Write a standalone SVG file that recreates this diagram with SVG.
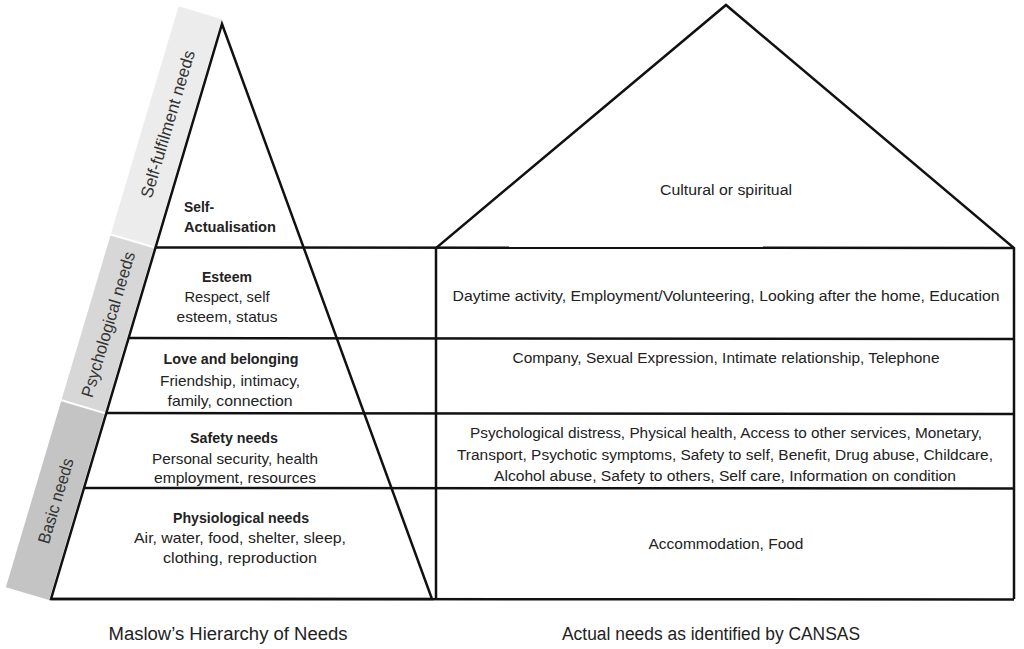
<svg xmlns="http://www.w3.org/2000/svg" width="1024" height="649" viewBox="0 0 1024 649">
<style>
.ln{stroke:#111;stroke-width:2.5;fill:none;stroke-linejoin:miter}
.t{font-family:"Liberation Sans",Arial,sans-serif;fill:#222;text-anchor:middle}
.p{font-size:15px}
.b{font-size:15px;font-weight:bold}
.r{font-size:14px}
.cap{font-size:18px}
.side{font-family:"Liberation Sans",Arial,sans-serif;font-size:17px;fill:#333;text-anchor:middle}
</style>
<rect width="1024" height="649" fill="#fff"/>
<g id="strips" transform="translate(49,600) rotate(-73.44)">
<g id="basic-needs"><rect x="0" y="-45" width="194" height="45" fill="#c4c4c4"/><text class="side" x="97" y="-16" textLength="88" lengthAdjust="spacingAndGlyphs">Basic needs</text></g>
<g id="psychological-needs"><rect x="196" y="-45" width="171" height="45" fill="#d7d7d7"/><text class="side" x="281" y="-16" textLength="151" lengthAdjust="spacingAndGlyphs">Psychological needs</text></g>
<g id="self-fulfilment-needs"><rect x="369" y="-45" width="237" height="45" fill="#ececec"/><text class="side" x="490" y="-16" textLength="153" lengthAdjust="spacingAndGlyphs">Self-fulfilment needs</text></g>
</g>
<g id="connectors">
<polygon class="ln" points="222,24 432,599 51,599"/>
<polyline class="ln" points="436,599 436,248 726,5 1014,248 1014,599"/>
<line class="ln" x1="155.7" y1="247.5" x2="1014" y2="248"/>
<line class="ln" x1="128.6" y1="338" x2="1014" y2="339"/>
<line class="ln" x1="106.3" y1="413" x2="1014" y2="414"/>
<line class="ln" x1="84" y1="488" x2="1014" y2="488.5"/>
<line class="ln" x1="51" y1="599" x2="1014" y2="599.5"/>
</g>
<g id="self-actualisation">
<text class="t b" x="184" y="212" style="text-anchor:start" textLength="30" lengthAdjust="spacingAndGlyphs">Self-</text>
<text class="t b" x="184" y="232" style="text-anchor:start" textLength="92" lengthAdjust="spacingAndGlyphs">Actualisation</text>
</g>
<g id="esteem">
<text class="t b" x="227" y="282" textLength="50" lengthAdjust="spacingAndGlyphs">Esteem</text>
<text class="t p" x="227" y="302" textLength="85" lengthAdjust="spacingAndGlyphs">Respect, self</text>
<text class="t p" x="227" y="322" textLength="101" lengthAdjust="spacingAndGlyphs">esteem, status</text>
</g>
<g id="love-belonging">
<text class="t b" x="231" y="364" textLength="135" lengthAdjust="spacingAndGlyphs">Love and belonging</text>
<text class="t p" x="230" y="386" textLength="140" lengthAdjust="spacingAndGlyphs">Friendship, intimacy,</text>
<text class="t p" x="230" y="406" textLength="125" lengthAdjust="spacingAndGlyphs">family, connection</text>
</g>
<g id="safety-needs">
<text class="t b" x="234" y="443" textLength="88" lengthAdjust="spacingAndGlyphs">Safety needs</text>
<text class="t p" x="235" y="464" textLength="166" lengthAdjust="spacingAndGlyphs">Personal security, health</text>
<text class="t p" x="235" y="483" textLength="162" lengthAdjust="spacingAndGlyphs">employment, resources</text>
</g>
<g id="physiological-needs">
<text class="t b" x="241" y="523" textLength="136" lengthAdjust="spacingAndGlyphs">Physiological needs</text>
<text class="t p" x="240" y="543" textLength="212" lengthAdjust="spacingAndGlyphs">Air, water, food, shelter, sleep,</text>
<text class="t p" x="240" y="563" textLength="154" lengthAdjust="spacingAndGlyphs">clothing, reproduction</text>
</g>
<g id="cultural">
<text class="t r" x="726" y="195" textLength="132" lengthAdjust="spacingAndGlyphs">Cultural or spiritual</text>
</g>
<g id="daytime">
<text class="t r" x="726" y="301" textLength="547" lengthAdjust="spacingAndGlyphs">Daytime activity, Employment/Volunteering, Looking after the home, Education</text>
</g>
<g id="company">
<text class="t r" x="726" y="363" textLength="427" lengthAdjust="spacingAndGlyphs">Company, Sexual Expression, Intimate relationship, Telephone</text>
</g>
<g id="psych-distress">
<text class="t r" x="726" y="438" textLength="512" lengthAdjust="spacingAndGlyphs">Psychological distress, Physical health, Access to other services, Monetary,</text>
<text class="t r" x="725" y="460" textLength="536" lengthAdjust="spacingAndGlyphs">Transport, Psychotic symptoms, Safety to self, Benefit,  Drug abuse, Childcare,</text>
<text class="t r" x="725" y="481" textLength="462" lengthAdjust="spacingAndGlyphs">Alcohol abuse, Safety to others, Self care, Information on condition</text>
</g>
<g id="accommodation">
<text class="t r" x="726" y="549" textLength="155" lengthAdjust="spacingAndGlyphs">Accommodation, Food</text>
</g>
<g id="captions">
<text class="t cap" x="228" y="640" textLength="239" lengthAdjust="spacingAndGlyphs">Maslow’s Hierarchy of Needs</text>
<text class="t cap" x="711" y="640" textLength="298" lengthAdjust="spacingAndGlyphs">Actual needs as identified by CANSAS</text>
</g>
</svg>
